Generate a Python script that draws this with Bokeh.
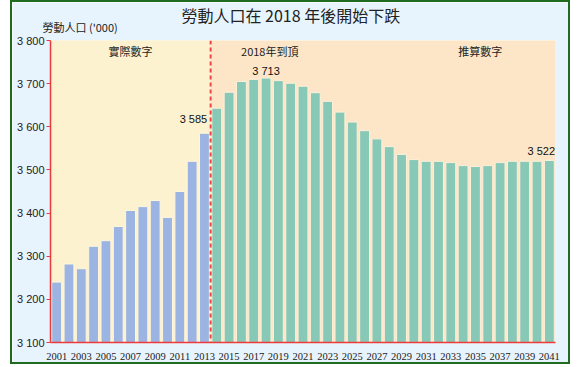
from bokeh.plotting import figure
from bokeh.models import (ColumnDataSource, Range1d, FixedTicker, BoxAnnotation,
                          Span, Label, Title)
from bokeh.embed import file_html
from bokeh.resources import INLINE

# ---- data ----
actual_years = list(range(2001, 2014))
actual_values = [3240, 3282, 3271, 3323, 3336, 3369, 3406, 3415, 3429, 3390, 3450, 3520, 3585]
proj_years = list(range(2014, 2042))
proj_values = [3643, 3680, 3705, 3710, 3713, 3707, 3701, 3694, 3679, 3659, 3634, 3611, 3591,
               3572, 3554, 3536, 3524, 3520, 3520, 3517, 3510, 3508, 3510, 3517, 3520, 3520,
               3520, 3522]
y_ticks = [3100, 3200, 3300, 3400, 3500, 3600, 3700, 3800]
y_tick_labels = ["3 100", "3 200", "3 300", "3 400", "3 500", "3 600", "3 700", "3 800"]
x_ticks = list(range(2001, 2042, 2))
title_text = "勞動人口在 2018 年後開始下跌"
y_label_text = "勞動人口 ('000)"
region_labels = ["實際數字", "2018年到頂", "推算數字"]
value_labels = [(2013, 3585, "3 585"), (2018, 3713, "3 713"), (2041, 3522, "3 522")]

CJK = "Noto Sans CJK TC"
LAT = "Liberation Sans"

p = figure(frame_width=505, frame_height=302,
           min_border_left=38, min_border_right=13, min_border_top=38, min_border_bottom=20,
           x_range=Range1d(2000.5, 2041.5), y_range=Range1d(3100, 3800),
           output_backend="svg", toolbar_location=None, title=None)
p.styles = {"border": "2px solid #1f6b1f", "margin-left": "10px"}
p.background_fill_color = "#fdf2d0"
p.border_fill_color = "#e8f4fd"
p.outline_line_color = None
p.xgrid.visible = False
p.ygrid.visible = False

# background regions
p.add_layout(BoxAnnotation(left=2000.5, right=2013.5, fill_color="#fdf2d0", fill_alpha=1,
                           line_color=None, level="underlay"))
p.add_layout(BoxAnnotation(left=2013.5, right=2041.5, fill_color="#fde6c8", fill_alpha=1,
                           line_color=None, level="underlay"))

src_a = ColumnDataSource(dict(x=actual_years, top=actual_values))
src_p = ColumnDataSource(dict(x=proj_years, top=proj_values))
p.vbar(x="x", top="top", bottom=3100, width=0.8, source=src_a,
       fill_color="#9cb4e1", line_color="#fff6dc", line_width=1)
p.vbar(x="x", top="top", bottom=3100, width=0.8, source=src_p,
       fill_color="#88c8b7", line_color="#fdf0d8", line_width=1)

p.add_layout(Span(location=2013.5, dimension="height", line_color="#f04545",
                  line_width=2, line_dash="4 3"))

# axes
for ax in (p.xaxis[0], p.yaxis[0]):
    ax.axis_line_color = "#ee3a3a"
    ax.axis_line_width = 1.5
    ax.minor_tick_line_color = None
    ax.major_label_text_color = "#222222"

p.yaxis.ticker = FixedTicker(ticks=y_ticks)
p.yaxis.major_label_overrides = {t: l for t, l in zip(y_ticks, y_tick_labels)}
p.yaxis.major_tick_line_color = "#ee3a3a"
p.yaxis.major_tick_out = 4
p.yaxis.major_tick_in = 0
p.yaxis.major_label_text_font = "Liberation Sans"
p.yaxis.major_label_text_font_size = "11px"
p.yaxis.major_label_standoff = 2

p.xaxis.ticker = FixedTicker(ticks=x_ticks)
p.xaxis.major_tick_line_color = None
p.xaxis.major_label_text_font = "Liberation Sans Narrow"
p.xaxis.major_label_text_font_size = "10.5px"
p.xaxis.major_label_standoff = 4

# titles (added nearest-first)
p.add_layout(Title(text=y_label_text, align="left", offset=-8, standoff=12,
                   text_font=CJK, text_font_size="11px", text_font_style="normal",
                   text_color="#222222"), "above")
p.add_layout(Title(text=title_text, align="left", offset=131, standoff=-32,
                   text_font=CJK, text_font_size="16px", text_font_style="normal",
                   text_color="#222222"), "above")

for x, t in zip([2007, 2018.3, 2035.4], region_labels):
    p.add_layout(Label(x=x, y=3800, y_offset=-10, text=t, text_font=CJK,
                       text_font_size="11px", text_align="center", text_baseline="middle",
                       text_color="#222222"))
offs = {2013: (-11, 14), 2018: (0, 7), 2041: (-8, 9)}
for x, v, t in value_labels:
    dx, dy = offs[x]
    p.add_layout(Label(x=x, y=v, x_offset=dx, y_offset=dy, text=t, text_font=LAT,
                       text_font_size="11px", text_align="center", text_baseline="middle",
                       text_color="#111111"))

open("out.html", "w").write(file_html(p, INLINE))
